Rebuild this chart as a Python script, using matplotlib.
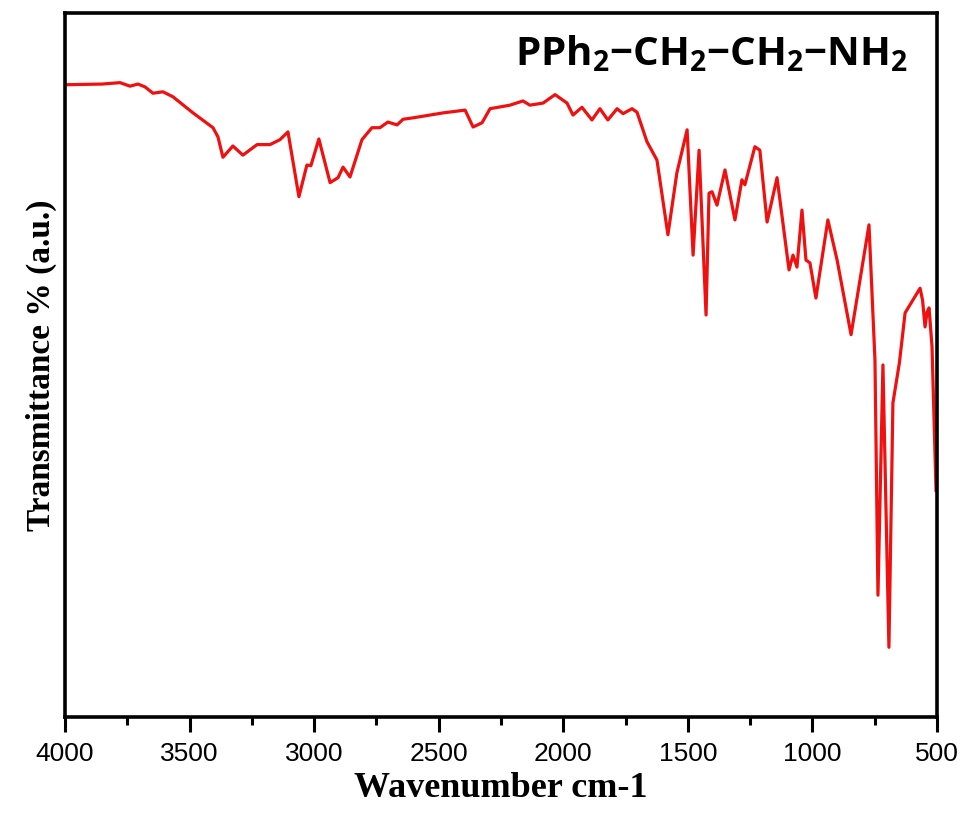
import matplotlib
matplotlib.use("Agg")
import matplotlib.pyplot as plt
from matplotlib.ticker import MultipleLocator

# FTIR spectrum
wavenumber = [4000, 3850, 3779, 3739, 3707, 3679, 3647, 3607, 3567, 3486, 3406, 3386, 3366,
              3326, 3286, 3229, 3177, 3137, 3105, 3061, 3029, 3013, 2981, 2936, 2904,
              2884, 2856, 2808, 2768, 2736, 2704, 2667, 2643, 2603, 2483, 2394, 2362,
              2326, 2294, 2214, 2162, 2134, 2081, 2033, 1985, 1961, 1925, 1885, 1853,
              1821, 1784, 1760, 1724, 1704, 1664, 1624, 1580, 1544, 1503, 1479, 1455,
              1427, 1415, 1403, 1383, 1351, 1311, 1283, 1271, 1231, 1211, 1182, 1142,
              1094, 1078, 1062, 1042, 1026, 1010, 986, 938, 901, 845, 773, 749, 737,
              717, 693, 677, 651, 628, 568, 558, 548, 540, 532, 520, 504]
transmittance = [89.8, 89.9, 90.1, 89.6, 89.9, 89.5, 88.6, 88.8, 88.1, 85.8, 83.7, 82.4, 79.5,
                 81.1, 79.8, 81.3, 81.3, 82.0, 83.1, 73.9, 78.4, 78.3, 82.1, 75.9, 76.6,
                 78.1, 76.7, 82.0, 83.7, 83.7, 84.5, 84.1, 84.9, 85.1, 85.8, 86.2, 83.8,
                 84.4, 86.4, 86.9, 87.5, 86.9, 87.2, 88.4, 87.2, 85.5, 86.6, 84.8, 86.4,
                 84.8, 86.4, 85.7, 86.4, 85.9, 81.7, 79.1, 68.5, 77.3, 83.4, 65.6, 80.5,
                 57.1, 74.4, 74.6, 72.7, 77.7, 70.6, 76.3, 75.6, 81.0, 80.5, 70.3, 76.6,
                 63.5, 65.6, 63.9, 72.0, 64.9, 64.5, 59.5, 70.6, 64.9, 54.3, 69.9, 50.7,
                 17.3, 50.0, 9.9, 44.6, 50.3, 57.4, 60.9, 59.2, 55.4, 57.5, 58.1, 52.6, 32.2]

title = r"$\mathbf{PPh_2{-}CH_2{-}CH_2{-}NH_2}$"

plt.rcParams['mathtext.fontset'] = 'custom'
plt.rcParams['mathtext.bf'] = 'Open Sans:bold'
plt.rcParams['mathtext.rm'] = 'Open Sans'

fig = plt.figure(figsize=(9.64, 8.14), dpi=100)
ax = fig.add_axes([0.0674, 0.1192, 0.9046, 0.8649])

ax.plot(wavenumber, transmittance, color='#f01010', linewidth=2.3,
        solid_joinstyle='round')

ax.set_xlim(4000, 500)
ax.set_ylim(0, 100)
ax.xaxis.set_major_locator(MultipleLocator(500))
ax.xaxis.set_minor_locator(MultipleLocator(250))
ax.set_yticks([])

for s in ax.spines.values():
    s.set_linewidth(2.6)
ax.tick_params(axis='x', which='major', direction='out', length=11, width=2.2, pad=7,
               labelsize=19)
ax.tick_params(axis='x', which='minor', direction='out', length=6, width=2.2)
for lab in ax.get_xticklabels():
    lab.set_family('Liberation Sans')

ax.set_xlabel('Wavenumber cm-1', family='Liberation Serif', fontweight='bold',
              fontsize=26, labelpad=4)
ax.set_ylabel('Transmittance % (a.u.)', family='Liberation Serif', fontweight='bold',
              fontsize=24, labelpad=6)

ax.text(0.741, 0.926, title, transform=ax.transAxes, ha='center', va='baseline',
        fontsize=29)

fig.savefig('out.png', dpi=100)
